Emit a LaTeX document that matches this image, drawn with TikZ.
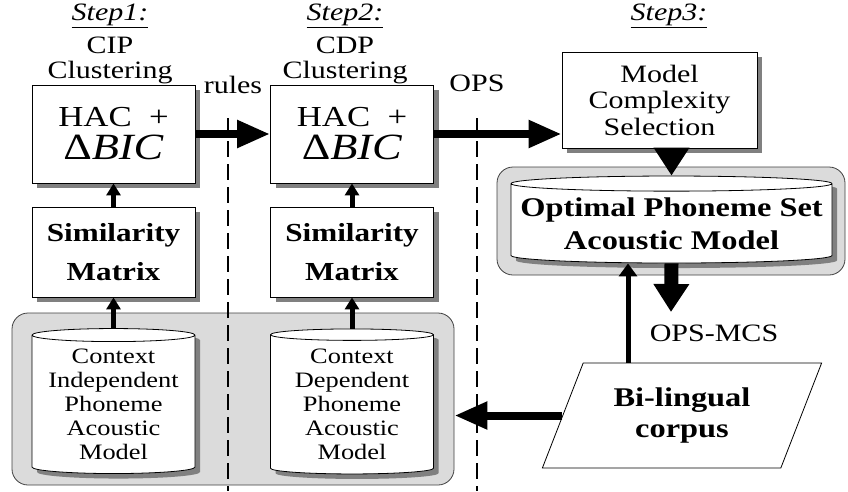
\documentclass[tikz,border=0pt]{standalone}
\usepackage{fontspec}
\setmainfont[FakeStretch=1.2]{Liberation Serif}
\usetikzlibrary{shapes.geometric, arrows.meta, shadows}

\tikzset{
  boxshadow/.style={drop shadow={shadow xshift=5pt, shadow yshift=-5pt, fill=black!50, opacity=1}},
  stepbox/.style={draw, fill=white, line width=0.8pt, boxshadow, align=center, inner sep=0pt},
  dbbox/.style={cylinder, shape border rotate=90, aspect=0.1, draw, fill=white, line width=0.8pt, boxshadow, align=center, inner sep=0pt},
  groupbox/.style={draw=black!75, fill=black!14, rounded corners=16pt, line width=0.8pt, inner sep=0pt},
  title/.style={align=center, font=\fontsize{25}{27}\selectfont},
  bigarrow/.style={line width=8pt, -{Triangle[length=33pt,width=26pt]}},
  fatarrow/.style={line width=14pt, -{Triangle[length=28pt,width=34pt]}},
  smallarrow/.style={line width=5pt, -{Triangle[length=12pt,width=14pt]}},
  thinarrow/.style={line width=5pt, -{Triangle[length=13pt,width=18pt]}},
  divider/.style={dash pattern=on 16pt off 7pt, line width=2.5pt}
}

\begin{document}
\begin{tikzpicture}[x=1pt, y=-1pt, font=\fontsize{25}{27}\selectfont]
\useasboundingbox (0,0) rectangle (848,491);

% gray groups
\node[groupbox, minimum width=442pt, minimum height=172pt] (cigroup) at (233,399) {};
\node[groupbox, minimum width=348pt, minimum height=108pt] (opsgroup) at (671,221) {};

% step titles
\node[title, anchor=north] (t1) at (110,0) {\underline{\textit{Step1:}}\\[6pt]CIP\\[-2pt]Clustering};
\node[title, anchor=north] (t2) at (345,0) {\underline{\textit{Step2:}}\\[6pt]CDP\\[-2pt]Clustering};
\node[title, anchor=north] (t3) at (669,0) {\underline{\textit{Step3:}}};

% clustering steps
\node[stepbox, minimum width=163pt, minimum height=98pt, font=\fontsize{29}{31}\selectfont] (hac1) at (113.5,134) {HAC~~+\\[2pt]{\fontsize{37}{37}\selectfont Δ\textit{BIC}}};
\node[stepbox, minimum width=163pt, minimum height=98pt, font=\fontsize{29}{31}\selectfont] (hac2) at (352,134) {HAC~~+\\[2pt]{\fontsize{37}{37}\selectfont Δ\textit{BIC}}};
\node[stepbox, minimum width=163pt, minimum height=90pt, font=\bfseries\fontsize{26}{39}\selectfont] (sim1) at (113.5,252) {Similarity\\Matrix};
\node[stepbox, minimum width=163pt, minimum height=90pt, font=\bfseries\fontsize{26}{39}\selectfont] (sim2) at (352,252) {Similarity\\Matrix};
\node[stepbox, minimum width=195pt, minimum height=96pt, font=\fontsize{25}{26.5}\selectfont] (mcs) at (659.5,100) {Model\\Complexity\\Selection};

% acoustic models
\node[dbbox, minimum width=163pt, minimum height=145pt, font=\fontsize{22}{24}\selectfont] (cim) at (113.5,404.5) {Context\\Independent\\Phoneme\\Acoustic\\Model};
\node[dbbox, minimum width=163pt, minimum height=145pt, font=\fontsize{22}{24}\selectfont] (cdm) at (352,404.5) {Context\\Dependent\\Phoneme\\Acoustic\\Model};
\node[dbbox, aspect=0.05, minimum width=321pt, minimum height=87pt, font=\bfseries\fontsize{27}{33}\selectfont] (opsam) at (671.5,223.5) {Optimal Phoneme Set\\Acoustic Model};

% corpus
\node[trapezium, trapezium left angle=63, trapezium right angle=117, trapezium stretches=true, draw, fill=white, line width=0.8pt, minimum width=280pt, minimum height=105pt, align=center, inner sep=0pt, font=\bfseries\fontsize{27}{31}\selectfont] (bi) at (682,415.5) {Bi-lingual\\corpus};

% labels
\node (rules) at (233,85) {rules};
\node (ops) at (477,83) {OPS};
\node (opsmcs) at (714,333) {OPS-MCS};

% dividers
\coordinate (d1top) at (228,118);
\coordinate (d1bot) at (228,491);
\coordinate (d2top) at (477,118);
\coordinate (d2bot) at (477,491);
\draw[divider] (d1top) -- (d1bot);
\draw[divider] (d2top) -- (d2bot);

% connectors
\coordinate (biup) at (628,363);
\coordinate (opsend) at (671,312);
\draw[bigarrow] (hac1) -- (hac2);
\draw[bigarrow] (hac2.east) -- (hac2.east -| mcs.west);
\draw[smallarrow] (sim1) -- (hac1);
\draw[smallarrow] (sim2) -- (hac2);
\draw[smallarrow] (cim) -- (sim1);
\draw[smallarrow] (cdm) -- (sim2);
\draw[fatarrow] (opsam.north |- mcs.south) -- (opsam.north);
\draw[fatarrow] (opsam.south) -- (opsend);
\draw[thinarrow] (biup) -- (biup |- opsam.south);
\draw[bigarrow] (bi.west) -- (bi.west -| cigroup.east);
\end{tikzpicture}
\end{document}
